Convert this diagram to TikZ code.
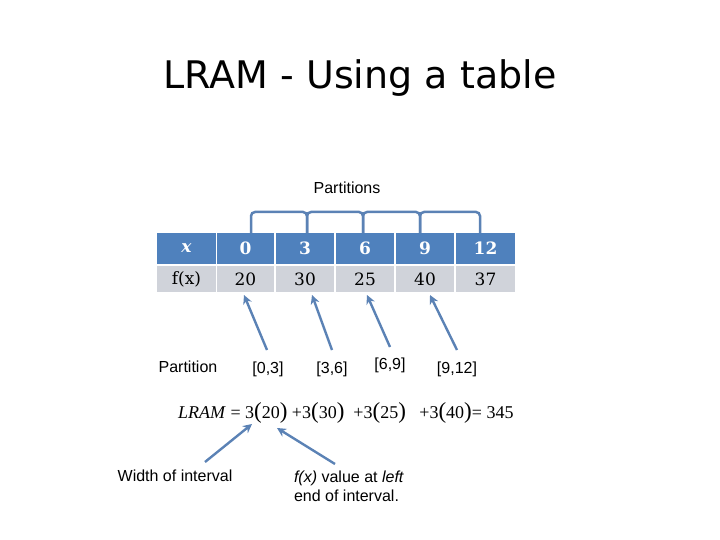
\documentclass[tikz,border=0pt]{standalone}
\usepackage{fontspec}
\setmainfont{Liberation Serif}
\setsansfont{Liberation Sans}
\newfontfamily\titlefont{DejaVu Sans}
\newfontfamily\tabfont{DejaVu Serif}
\usetikzlibrary{arrows.meta}
\definecolor{hdr}{HTML}{4F81BD}
\definecolor{row}{HTML}{D0D3DA}
\definecolor{arr}{HTML}{5B82B5}
\newcommand{\bp}[1]{{\fontsize{23}{23}\selectfont(}#1{\fontsize{23}{23}\selectfont)}}
\begin{document}
\begin{tikzpicture}[x=1pt,y=-1pt,
  hcell/.style={fill=hdr,minimum height=31pt,inner sep=0pt,text=white,font=\tabfont\bfseries\fontsize{17}{17}\selectfont},
  rcell/.style={fill=row,minimum height=26pt,inner sep=0pt,font=\tabfont\fontsize{17}{17}\selectfont},
  lbl/.style={font=\sffamily\fontsize{16}{19}\selectfont,align=left},
  pt/.style={draw=arr,line width=2.4pt,-{Stealth[length=9pt,width=9pt]}},
  br/.style={draw=arr,line width=2.5pt,rounded corners=4pt}]
\useasboundingbox (0,0) rectangle (720,540);
\node[font=\titlefont\fontsize{38}{40}\selectfont] (title) at (360,78) {LRAM - Using a table};
\node[lbl] (parts) at (347,188) {Partitions};
\foreach \a/\b/\n/\t/\f [count=\i] in {157/216/x/\textit{x}/f(x),217/274/a/0/20,276/334/b/3/30,336/394/c/6/25,396/454/d/9/40,456/515/e/12/37}{
  \node[hcell,minimum width={(\b-\a)*1pt}] (h\n) at ({(\a+\b)/2},248.5) {\t};
  \node[rcell,minimum width={(\b-\a)*1pt}] (r\n) at ({(\a+\b)/2},279) {\f};
}
\coordinate (t1) at (251,233); \coordinate (t2) at (307,233); \coordinate (t3) at (363,233);
\coordinate (t4) at (420,233); \coordinate (t5) at (480,233);
\draw[br] (t1) -- (251,212) -- (307,212) -- (t2);
\draw[br] (t2) -- (307,212) -- (363,212) -- (t3);
\draw[br] (t3) -- (363,212) -- (420,212) -- (t4);
\draw[br] (t4) -- (420,212) -- (480,212) -- (t5);
\node[lbl] (plab) at (188,367) {Partition};
\node[lbl] (p1) at (268,369) {[0,3]};
\node[lbl] (p2) at (332,369) {[3,6]};
\node[lbl] (p3) at (390,365) {[6,9]};
\node[lbl] (p4) at (457,369) {[9,12]};
\coordinate (s1) at (267,350); \coordinate (s2) at (332,350);
\coordinate (s3) at (390,347); \coordinate (s4) at (457,350);
\draw[pt] (s1) -- (244,295);
\draw[pt] (s2) -- (312,295);
\draw[pt] (s3) -- (367,295);
\draw[pt] (s4) -- (430,295);
\node[font=\fontsize{18}{21}\selectfont,anchor=west,inner sep=0pt] (eq) at (178,413) {\textit{LRAM} = 3\bp{20} +3\bp{30}\enspace +3\bp{25}\enspace\ +3\bp{40}= 345};
\node[lbl] (w) at (175,476) {Width of interval};
\node[lbl] (fv) at (349,486) {\textit{f(x)} value at \textit{left}\\end of interval.};
\coordinate (w1) at (205,462); \coordinate (w2) at (252,424);
\coordinate (f1) at (335,464); \coordinate (f2) at (277,428);
\draw[pt] (w1) -- (w2);
\draw[pt] (f1) -- (f2);
\end{tikzpicture}
\end{document}
